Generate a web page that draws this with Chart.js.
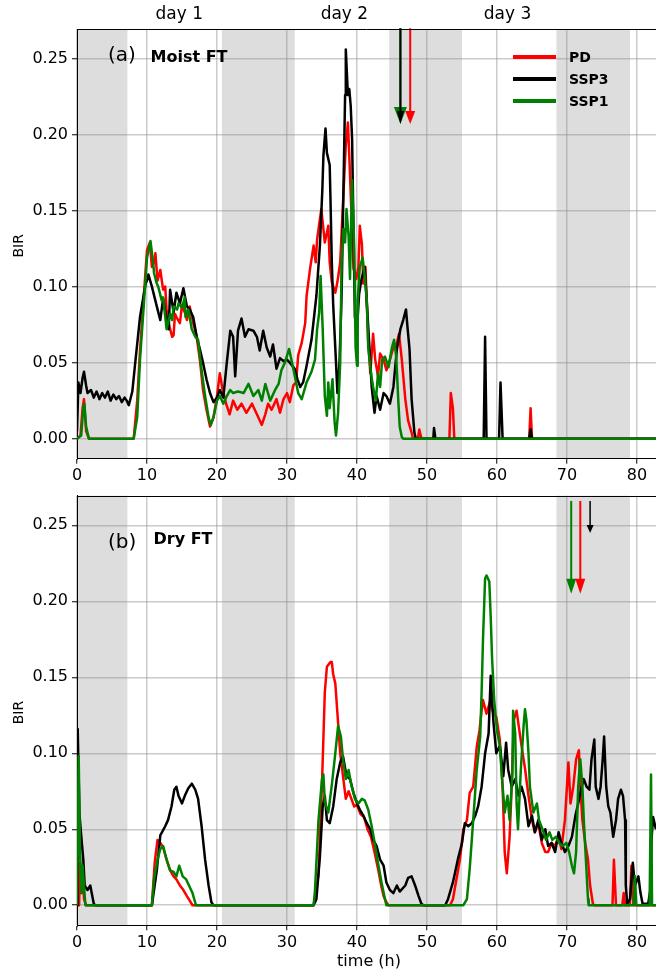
<!DOCTYPE html>
<html>
<head>
<meta charset="utf-8">
<script src="https://cdn.jsdelivr.net/npm/chart.js@4.4.0/dist/chart.umd.min.js"></script>
<style>
  html, body { margin: 0; padding: 0; background: #fff; }
  #wrap { position: relative; width: 656px; height: 973px; overflow: hidden; }
  canvas { position: absolute; left: 0; }
</style>
</head>
<body>
<div id="wrap">
  <canvas id="moist" width="656" height="480" style="top:0"></canvas>
  <canvas id="dry" width="656" height="493" style="top:480px"></canvas>
</div>
<script>
Chart.defaults.font.family = "'DejaVu Sans', sans-serif";
Chart.defaults.color = '#000';

const xTicks = [0, 10, 20, 30, 40, 50, 60, 70, 80];
const yTicks = [0, 0.05, 0.10, 0.15, 0.20, 0.25];
const nightSpans = [[0, 7.2], [20.7, 31.1], [44.6, 55.0], [68.5, 79.0]];
const dayLabels = ['day 1', 'day 2', 'day 3'];
const dayCenters = [14.6, 38.2, 61.5];
const scenarios = ['PD', 'SSP3', 'SSP1'];
const scenarioColors = ['#ff0000', '#000000', '#008000'];

// (a) moist free troposphere, [time h, BIR]
const moistPD = [[0,0],[0.5,0.002],[0.8,0.02],[1.0,0.026],[1.3,0.005],[1.7,0],[8.1,0],[8.6,0.025],[9.0,0.058],[9.5,0.091],[10.0,0.124],[10.4,0.129],[10.7,0.113],[11.0,0.116],[11.2,0.122],[11.5,0.104],[11.9,0.111],[12.3,0.098],[12.6,0.10],[12.8,0.085],[13.1,0.076],[13.3,0.072],[13.6,0.067],[13.8,0.068],[14.0,0.082],[14.2,0.080],[14.7,0.076],[15.0,0.088],[15.2,0.085],[15.5,0.082],[15.7,0.078],[16.1,0.087],[16.6,0.076],[17.1,0.067],[17.6,0.050],[18.0,0.032],[18.5,0.019],[19.0,0.008],[19.5,0.014],[20.0,0.028],[20.4,0.043],[20.8,0.032],[21.3,0.023],[21.8,0.016],[22.3,0.025],[22.9,0.019],[23.5,0.023],[24.2,0.017],[25.0,0.023],[25.7,0.016],[26.4,0.009],[26.9,0.016],[27.3,0.023],[27.8,0.019],[28.5,0.026],[29.0,0.017],[29.5,0.026],[30.0,0.030],[30.4,0.024],[30.9,0.035],[31.3,0.037],[31.6,0.055],[32.1,0.063],[32.6,0.076],[32.8,0.094],[33.3,0.112],[33.8,0.127],[34.1,0.116],[34.3,0.131],[34.9,0.151],[35.2,0.138],[35.4,0.129],[35.9,0.140],[36.1,0.116],[36.4,0.103],[36.9,0.096],[37.2,0.103],[37.6,0.116],[38.05,0.160],[38.4,0.193],[38.7,0.208],[38.9,0.186],[39.2,0.149],[39.5,0.112],[39.9,0.105],[40.2,0.113],[40.4,0.140],[40.7,0.128],[40.9,0.102],[41.2,0.113],[41.6,0.065],[41.9,0.043],[42.3,0.069],[42.6,0.052],[43.0,0.041],[43.3,0.056],[43.8,0.052],[44.2,0.045],[44.7,0.052],[45.2,0.060],[45.7,0.063],[46.0,0.069],[46.4,0.052],[46.9,0.026],[47.3,0.012],[47.8,0.004],[48.0,0],[48.7,0],[48.9,0.006],[49.2,0],[53.2,0],[53.4,0.030],[53.7,0.02],[53.9,0],[64.6,0],[64.8,0.020],[65.0,0],[83,0]];
const moistSSP3 = [[0,0.005],[0.2,0.037],[0.5,0.03],[0.8,0.040],[1.0,0.044],[1.3,0.035],[1.5,0.030],[2.0,0.032],[2.4,0.027],[2.8,0.031],[3.2,0.026],[3.6,0.030],[4.0,0.027],[4.4,0.031],[4.8,0.025],[5.2,0.029],[5.6,0.026],[6.0,0.028],[6.4,0.024],[6.8,0.027],[7.1,0.025],[7.4,0.022],[7.9,0.031],[8.3,0.049],[9.0,0.080],[9.8,0.102],[10.0,0.104],[10.2,0.108],[10.7,0.100],[11.4,0.087],[11.9,0.078],[12.3,0.092],[12.8,0.079],[13.1,0.072],[13.3,0.098],[13.8,0.083],[14.2,0.096],[14.7,0.089],[15.2,0.099],[15.7,0.087],[16.1,0.085],[16.6,0.080],[17.1,0.067],[17.6,0.058],[18.0,0.050],[18.5,0.039],[19.0,0.030],[19.5,0.024],[20.0,0.027],[20.4,0.032],[20.9,0.027],[21.4,0.050],[21.9,0.071],[22.3,0.067],[22.6,0.041],[23.0,0.071],[23.5,0.079],[24.0,0.067],[24.5,0.072],[25.2,0.071],[25.7,0.067],[26.1,0.058],[26.6,0.071],[27.1,0.060],[27.6,0.054],[28.0,0.062],[28.5,0.046],[29.0,0.053],[29.5,0.051],[30.0,0.052],[30.4,0.050],[31.1,0.046],[31.5,0.039],[31.9,0.034],[32.3,0.037],[32.8,0.048],[33.5,0.065],[34.2,0.094],[34.7,0.127],[35.05,0.164],[35.2,0.186],[35.5,0.204],[35.7,0.188],[36.1,0.180],[36.2,0.160],[36.4,0.116],[36.6,0.088],[37.0,0.050],[37.2,0.030],[37.5,0.050],[37.8,0.094],[38.05,0.160],[38.3,0.226],[38.4,0.256],[38.7,0.226],[38.9,0.230],[39.1,0.219],[39.3,0.197],[39.5,0.138],[39.7,0.080],[40.0,0.072],[40.3,0.095],[40.6,0.104],[41.1,0.113],[41.6,0.074],[42.1,0.034],[42.5,0.017],[42.8,0.028],[43.3,0.019],[43.8,0.030],[44.2,0.028],[44.7,0.023],[45.2,0.034],[45.7,0.059],[46.2,0.072],[46.6,0.078],[47.0,0.085],[47.2,0.074],[47.5,0.059],[47.8,0.026],[48.2,0.004],[48.4,0],[50.9,0],[51.0,0.007],[51.2,0],[58.1,0],[58.3,0.067],[58.5,0],[60.3,0],[60.5,0.037],[60.8,0],[64.6,0],[64.8,0.006],[65.0,0],[83,0]];
const moistSSP1 = [[0,0],[0.6,0.002],[0.9,0.02],[1.05,0.023],[1.3,0.008],[1.7,0],[8.1,0],[8.6,0.014],[9.0,0.052],[9.5,0.085],[10.0,0.119],[10.5,0.130],[10.9,0.115],[11.0,0.109],[11.4,0.102],[11.6,0.100],[12.1,0.091],[12.3,0.093],[12.8,0.072],[13.3,0.082],[13.6,0.078],[13.8,0.087],[14.3,0.085],[14.5,0.089],[15.0,0.086],[15.4,0.093],[15.5,0.080],[15.9,0.085],[16.4,0.072],[16.9,0.067],[17.3,0.065],[17.8,0.045],[18.3,0.028],[18.8,0.014],[19.1,0.009],[19.5,0.014],[20.0,0.025],[20.4,0.028],[20.9,0.023],[21.4,0.028],[21.9,0.032],[22.3,0.030],[23.0,0.031],[23.8,0.030],[24.5,0.036],[25.2,0.028],[25.9,0.032],[26.4,0.025],[26.9,0.036],[27.6,0.025],[28.3,0.032],[28.8,0.036],[29.2,0.045],[29.7,0.050],[30.3,0.059],[30.9,0.046],[31.6,0.030],[32.1,0.026],[32.8,0.037],[33.5,0.044],[34.0,0.052],[34.3,0.072],[34.6,0.083],[34.8,0.107],[35.1,0.072],[35.4,0.028],[35.7,0.015],[35.9,0.037],[36.1,0.020],[36.5,0.039],[36.8,0.011],[37.0,0.002],[37.3,0.017],[37.6,0.050],[37.8,0.116],[38.05,0.138],[38.3,0.129],[38.5,0.151],[38.8,0.133],[39.0,0.105],[39.3,0.170],[39.6,0.127],[39.8,0.060],[40.0,0.048],[40.1,0.091],[40.4,0.113],[40.8,0.119],[41.05,0.109],[41.4,0.091],[41.6,0.060],[42.0,0.043],[42.3,0.034],[42.7,0.025],[43.0,0.043],[43.3,0.034],[43.6,0.052],[44.0,0.054],[44.5,0.047],[45.0,0.060],[45.3,0.065],[45.6,0.054],[45.9,0.025],[46.1,0.008],[46.4,0.001],[46.6,0],[83,0]];

// (b) dry free troposphere, [time h, BIR]
const dryPD = [[0,0],[0.3,0],[0.45,0.028],[0.6,0.008],[0.8,0.02],[1.0,0.004],[1.3,0],[10.7,0],[11.1,0.028],[11.5,0.043],[11.9,0.041],[12.3,0.038],[12.8,0.030],[13.3,0.023],[13.8,0.019],[14.2,0.017],[14.7,0.013],[15.2,0.010],[15.7,0.006],[16.1,0.003],[16.5,0],[33.8,0],[34.5,0.02],[35.0,0.08],[35.4,0.14],[35.7,0.157],[36.2,0.160],[36.4,0.160],[36.6,0.152],[36.9,0.146],[37.3,0.12],[37.6,0.10],[38.0,0.085],[38.4,0.07],[38.8,0.075],[39.2,0.07],[39.6,0.065],[40.0,0.066],[40.5,0.060],[41.0,0.058],[41.5,0.050],[42.0,0.045],[42.5,0.035],[43.0,0.024],[43.5,0.012],[43.8,0.006],[44.2,0.002],[44.5,0],[53.3,0],[53.7,0.004],[54.2,0.017],[54.7,0.030],[55.2,0.050],[55.7,0.056],[56.1,0.074],[56.6,0.078],[57.1,0.104],[57.5,0.115],[57.8,0.128],[58.0,0.135],[58.5,0.126],[59.0,0.134],[59.5,0.126],[59.9,0.124],[60.4,0.109],[60.8,0.078],[61.1,0.035],[61.4,0.021],[61.8,0.045],[62.1,0.078],[62.4,0.122],[62.8,0.128],[63.1,0.118],[63.5,0.105],[64.0,0.09],[64.5,0.072],[65.0,0.056],[65.4,0.048],[65.9,0.054],[66.4,0.041],[66.9,0.035],[67.3,0.035],[67.8,0.041],[68.3,0.039],[68.8,0.045],[69.2,0.037],[69.7,0.056],[70.2,0.094],[70.5,0.067],[70.9,0.078],[71.3,0.096],[71.7,0.102],[71.9,0.078],[72.2,0.056],[72.6,0.041],[73.0,0.030],[73.3,0.013],[73.7,0.001],[73.9,0],[76.5,0],[76.7,0.030],[77.0,0],[77.9,0],[78.1,0.008],[78.3,0],[79.0,0],[79.2,0.026],[79.5,0],[83,0]];
const drySSP3 = [[0,0],[0.1,0.116],[0.35,0.060],[0.67,0.042],[0.9,0.030],[1.1,0.013],[1.5,0.010],[1.9,0.013],[2.1,0.008],[2.4,0.001],[2.6,0],[10.7,0],[11.4,0.023],[11.9,0.046],[12.6,0.052],[13.0,0.056],[13.5,0.065],[13.9,0.076],[14.2,0.078],[14.5,0.072],[15.0,0.067],[15.4,0.072],[15.9,0.077],[16.4,0.080],[16.9,0.076],[17.3,0.070],[17.8,0.052],[18.3,0.030],[18.8,0.013],[19.2,0.002],[19.5,0],[33.8,0],[34.2,0.004],[34.7,0.032],[35.1,0.065],[35.4,0.072],[35.7,0.056],[36.1,0.054],[36.6,0.065],[37.1,0.083],[37.6,0.094],[38.0,0.098],[38.5,0.085],[39.0,0.083],[39.5,0.074],[40.0,0.067],[40.4,0.063],[40.9,0.059],[41.4,0.054],[41.9,0.050],[42.3,0.043],[42.8,0.039],[43.3,0.030],[43.8,0.026],[44.2,0.015],[44.7,0.010],[45.2,0.008],[45.7,0.013],[46.1,0.009],[46.9,0.013],[47.3,0.018],[47.8,0.019],[48.3,0.013],[48.8,0.006],[49.2,0.001],[49.5,0],[52.6,0],[53.0,0.004],[53.7,0.015],[54.4,0.030],[55.0,0.041],[55.4,0.054],[55.9,0.052],[56.4,0.054],[56.9,0.059],[57.3,0.065],[57.8,0.078],[58.3,0.100],[58.8,0.113],[59.1,0.151],[59.3,0.135],[59.5,0.12],[59.9,0.100],[60.4,0.105],[60.9,0.085],[61.3,0.107],[61.6,0.089],[62.1,0.078],[62.6,0.083],[63.1,0.072],[63.5,0.078],[64.0,0.070],[64.5,0.052],[65.0,0.059],[65.4,0.048],[65.9,0.056],[66.4,0.043],[66.9,0.050],[67.3,0.039],[67.8,0.041],[68.3,0.035],[68.8,0.048],[69.2,0.041],[69.7,0.035],[70.2,0.039],[70.7,0.045],[71.2,0.059],[71.6,0.067],[72.1,0.078],[72.4,0.083],[72.8,0.078],[73.2,0.076],[73.5,0.096],[73.9,0.109],[74.1,0.078],[74.5,0.070],[74.8,0.078],[75.1,0.096],[75.3,0.111],[75.6,0.078],[75.9,0.065],[76.2,0.061],[76.6,0.045],[77.0,0.056],[77.3,0.070],[77.7,0.076],[78.0,0.072],[78.3,0.056],[78.4,0.013],[78.6,0.001],[79.0,0.004],[79.4,0.028],[79.7,0.013],[80.2,0.019],[80.5,0.008],[80.8,0.001],[81.6,0.001],[81.9,0.01],[82.1,0.045],[82.3,0.058],[82.7,0.05]];
const drySSP1 = [[0,0],[0.24,0.098],[0.43,0.035],[0.67,0.008],[0.8,0.026],[1.0,0.013],[1.2,0],[10.7,0],[11.0,0.017],[11.5,0.030],[11.9,0.037],[12.3,0.039],[12.8,0.030],[13.3,0.023],[13.8,0.022],[14.2,0.019],[14.6,0.026],[15.1,0.019],[15.6,0.017],[16.0,0.013],[16.5,0.008],[17.0,0],[33.8,0],[34.0,0.01],[34.5,0.056],[35.0,0.083],[35.2,0.086],[35.4,0.068],[35.9,0.061],[36.4,0.079],[36.9,0.100],[37.3,0.118],[37.7,0.111],[38.0,0.096],[38.4,0.083],[38.8,0.089],[39.2,0.079],[39.7,0.070],[40.2,0.067],[40.7,0.070],[41.1,0.069],[41.6,0.063],[42.1,0.052],[42.6,0.039],[43.0,0.028],[43.5,0.015],[44.0,0.004],[44.2,0],[55.2,0],[55.7,0.004],[56.1,0.024],[56.6,0.056],[57.1,0.089],[57.6,0.111],[57.8,0.14],[58.0,0.175],[58.3,0.215],[58.5,0.217],[58.9,0.213],[59.1,0.19],[59.3,0.162],[59.6,0.135],[60.0,0.115],[60.4,0.105],[60.8,0.078],[61.1,0.061],[61.5,0.072],[61.8,0.056],[62.2,0.087],[62.3,0.128],[62.6,0.113],[62.8,0.067],[63.0,0.050],[63.4,0.089],[63.8,0.118],[64.0,0.129],[64.2,0.122],[64.5,0.100],[64.7,0.078],[65.2,0.061],[65.7,0.067],[66.0,0.056],[66.5,0.050],[67.0,0.043],[67.5,0.048],[67.9,0.043],[68.4,0.045],[68.9,0.041],[69.4,0.039],[69.9,0.041],[70.3,0.035],[70.7,0.026],[71.0,0.021],[71.3,0.035],[71.6,0.078],[71.9,0.096],[72.2,0.078],[72.4,0.056],[72.7,0.030],[73.0,0.004],[73.1,0],[79.5,0],[79.7,0.019],[79.9,0],[81.8,0],[82.0,0.086],[82.15,0],[83,0]];

// arrows: [scenario, time (h), start BIR, tip BIR]
const moistArrows = [['SSP1', 46.2, 0.27, 0.207], ['SSP3', 46.2, 0.27, 0.207], ['PD', 47.6, 0.27, 0.207]];
const dryArrows = [['SSP1', 70.6, 0.266, 0.205], ['PD', 71.9, 0.266, 0.205], ['SSP3', 73.3, 0.266, 0.245]];

const pts = arr => arr.map(([x, y]) => ({ x, y }));

function decor(cfg) {
  return {
    id: 'decor',
    beforeDraw(chart) {
      // night shading under the grid
      const { ctx, chartArea: a, scales: { x } } = chart;
      ctx.save();
      ctx.fillStyle = '#dddddd';
      for (const [s, e] of nightSpans) {
        const x0 = Math.max(x.getPixelForValue(s), a.left);
        const x1 = Math.min(x.getPixelForValue(e), a.right);
        if (x1 > x0) ctx.fillRect(x0, a.top, x1 - x0, a.bottom - a.top);
      }
      ctx.restore();
    },
    afterDatasetsDraw(chart) {
      const { ctx, scales: { x, y } } = chart;
      ctx.save();
      cfg.arrows.forEach(([name, t, y0, y1], i) => {
        const [hw, hl, lw] = cfg.heads[i];
        const col = scenarioColors[scenarios.indexOf(name)];
        const px = x.getPixelForValue(t);
        const top = y.getPixelForValue(y0), tip = y.getPixelForValue(y1);
        ctx.strokeStyle = col; ctx.fillStyle = col; ctx.lineWidth = lw;
        ctx.beginPath(); ctx.moveTo(px, top); ctx.lineTo(px, tip - hl + 1); ctx.stroke();
        ctx.beginPath();
        ctx.moveTo(px - hw / 2, tip - hl); ctx.lineTo(px + hw / 2, tip - hl); ctx.lineTo(px, tip);
        ctx.closePath(); ctx.fill();
      });
      ctx.restore();
    },
    afterDraw(chart) {
      const { ctx, chartArea: a, scales: { x } } = chart;
      ctx.save();
      ctx.strokeStyle = '#000'; ctx.lineWidth = 1;
      ctx.beginPath(); ctx.moveTo(a.left, Math.round(a.top) + 0.5); ctx.lineTo(a.right, Math.round(a.top) + 0.5); ctx.stroke();

      ctx.fillStyle = '#000';
      ctx.textBaseline = 'alphabetic';
      ctx.textAlign = 'left';
      ctx.font = "20px 'DejaVu Sans'";
      ctx.fillText(cfg.tag, cfg.tagPos[0], cfg.tagPos[1]);
      ctx.font = "bold 16px 'DejaVu Sans'";
      ctx.fillText(cfg.title, cfg.titlePos[0], cfg.titlePos[1]);

      ctx.save();
      ctx.translate(19, (a.top + a.bottom) / 2 + 2);
      ctx.rotate(-Math.PI / 2);
      ctx.textAlign = 'center'; ctx.textBaseline = 'middle';
      ctx.font = "14px 'DejaVu Sans'";
      ctx.fillText('BIR', 0, 0);
      ctx.restore();

      if (cfg.days) {
        ctx.textAlign = 'center'; ctx.textBaseline = 'alphabetic';
        ctx.font = "17px 'DejaVu Sans'";
        dayLabels.forEach((d, i) => ctx.fillText(d, x.getPixelForValue(dayCenters[i]), 19));
      }
      if (cfg.legend) {
        ctx.textAlign = 'left'; ctx.textBaseline = 'middle';
        ctx.font = "bold 14px 'DejaVu Sans'";
        scenarios.forEach((s, i) => {
          const yy = 57 + i * 22;
          ctx.strokeStyle = scenarioColors[i]; ctx.lineWidth = 4;
          ctx.beginPath(); ctx.moveTo(513, yy); ctx.lineTo(556, yy); ctx.stroke();
          ctx.fillText(s, 569, yy + 1);
        });
      }
      if (cfg.xTitle) {
        ctx.textAlign = 'center'; ctx.textBaseline = 'alphabetic';
        ctx.font = "16px 'DejaVu Sans'";
        ctx.fillText(cfg.xTitle, 369, cfg.xTitleY);
      }
      ctx.restore();
    }
  };
}

function makePanel(id, series, cfg) {
  const datasets = scenarios.map((s, i) => ({
    label: s,
    data: pts(series[i]),
    borderColor: scenarioColors[i],
    borderWidth: 2.5,
    pointRadius: 0,
    tension: 0,
    borderJoinStyle: 'round',
    order: 3 - i
  }));
  return new Chart(document.getElementById(id), {
    type: 'line',
    data: { datasets },
    options: {
      responsive: false,
      animation: false,
      layout: { padding: { top: cfg.padTop, left: 0, right: 0, bottom: 0 } },
      plugins: { legend: { display: false }, tooltip: { enabled: false } },
      scales: {
        x: {
          type: 'linear', min: 0, max: 82.714,
          afterFit: ax => { ax.height = cfg.axisH; },
          afterBuildTicks: ax => { ax.ticks = xTicks.map(v => ({ value: v })); },
          ticks: { autoSkip: false, maxRotation: 0, padding: 3, font: { size: 16 }, color: '#000', callback: v => String(v) },
          grid: { color: 'rgba(140,140,140,0.45)', lineWidth: 1.5, tickColor: '#000', tickLength: 5, tickWidth: 1 },
          border: { color: '#000', width: 1 }
        },
        y: {
          type: 'linear', min: -0.0132, max: 0.2695,
          afterFit: ax => { ax.width = 77; },
          afterBuildTicks: ax => { ax.ticks = yTicks.map(v => ({ value: v })); },
          ticks: { autoSkip: false, padding: 4, font: { size: 16 }, color: '#000', callback: v => v.toFixed(2) },
          grid: { color: 'rgba(140,140,140,0.45)', lineWidth: 1.5, tickColor: '#000', tickLength: 5, tickWidth: 1 },
          border: { color: '#000', width: 1 }
        }
      }
    },
    plugins: [decor(cfg)]
  });
}

makePanel('moist', [moistPD, moistSSP3, moistSSP1], {
  padTop: 29, axisH: 21.3,
  tag: '(a)', tagPos: [108, 60.7], title: 'Moist FT', titlePos: [150.5, 61.7],
  arrows: moistArrows, heads: [[13, 17, 2], [7, 13, 2], [10, 13, 2]],
  legend: true, days: true
});
makePanel('dry', [dryPD, drySSP3, drySSP1], {
  padTop: 15.7, axisH: 47.7,
  tag: '(b)', tagPos: [108, 68], title: 'Dry FT', titlePos: [153.5, 64],
  arrows: dryArrows, heads: [[10, 15, 2], [10, 15, 2], [7, 8, 1.5]],
  xTitle: 'time (h)', xTitleY: 486
});
</script>
</body>
</html>
